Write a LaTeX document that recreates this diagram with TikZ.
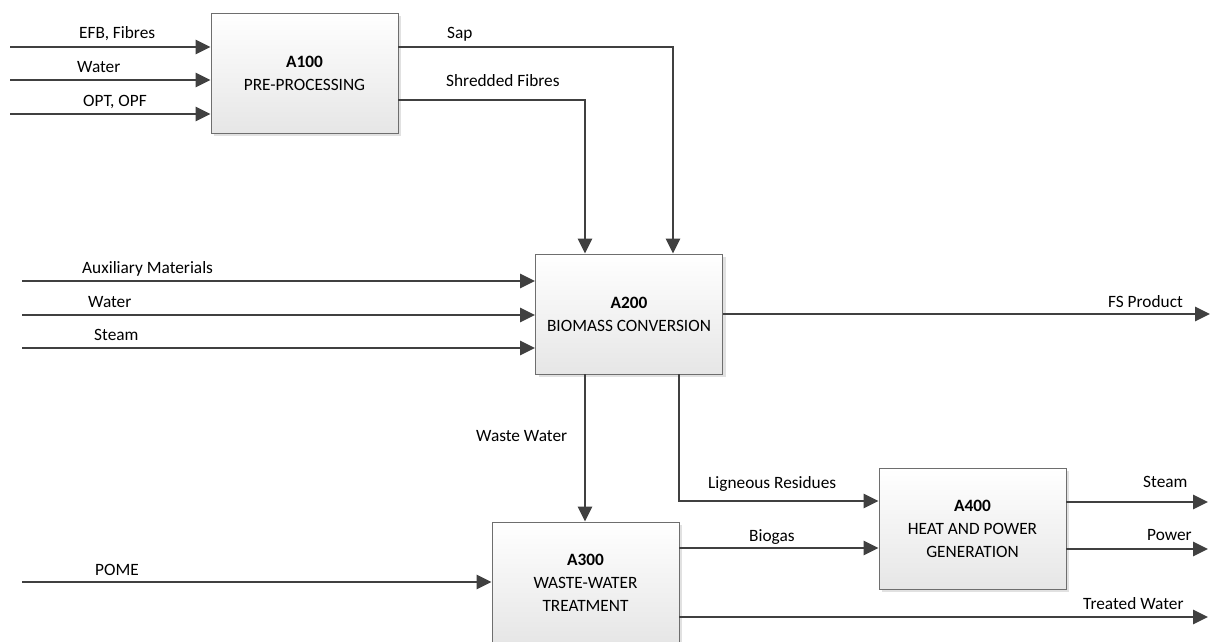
\documentclass[tikz,border=0pt]{standalone}
\usepackage{fontspec}
\setmainfont{Carlito}
\usetikzlibrary{arrows.meta,calc}
\definecolor{linec}{RGB}{64,64,64}
\definecolor{boxborder}{RGB}{110,110,110}
\definecolor{boxbottom}{RGB}{230,230,230}
\definecolor{shadowc}{RGB}{225,225,225}
\begin{document}
\begin{tikzpicture}[x=1pt,y=-1pt,
  font=\fontsize{17.3}{23}\selectfont,
  procbox/.style={draw=boxborder,line width=0.9pt,top color=white,bottom color=boxbottom,
    minimum width=187pt,minimum height=120pt,inner sep=0pt,align=center,text=black},
  flow/.style={draw=linec,line width=2.7pt,-{Triangle[length=15pt,width=14pt]}},
  lbl/.style={anchor=base west,inner sep=0pt,text=black}]
\useasboundingbox (0,0) rectangle (1212,642);
\clip (0,0) rectangle (1212,642);
\fill[white] (0,0) rectangle (1212,642);
% shadows
\foreach \cx/\cy/\h in {304.5/73/120, 629/314/120, 585.5/582.5/121, 972.5/528.5/121}{
  \fill[shadowc] (\cx-93.5+3,\cy-\h/2+3) rectangle (\cx+93.5+3,\cy+\h/2+3);
}
% boxes
\node[procbox] (A100) at (304.5,73) {\textbf{A100}\\PRE-PROCESSING};
\node[procbox] (A200) at (629,314) {\textbf{A200}\\BIOMASS CONVERSION};
\node[procbox,minimum height=121pt] (A300) at (585.5,582.5) {\textbf{A300}\\WASTE-WATER\\TREATMENT};
\node[procbox,minimum height=121pt] (A400) at (972.5,528.5) {\textbf{A400}\\HEAT AND POWER\\GENERATION};
% free ends
\coordinate (i1) at (10,47);
\coordinate (i2) at (10,80);
\coordinate (i3) at (10,114);
\coordinate (sapturn) at (673,47);
\coordinate (shrturn) at (585,100);
\coordinate (j1) at (22,281);
\coordinate (j2) at (22,315);
\coordinate (j3) at (22,348);
\coordinate (fsend) at (1210,314);
\coordinate (ww) at (585,400);
\coordinate (lig) at (679,501);
\coordinate (pome) at (22,582);
\coordinate (bio) at (700,548);
\coordinate (twend) at (1208,617);
\coordinate (stend) at (1208,502);
\coordinate (pwend) at (1208,549);
% connectors
\draw[flow] (i1) -- (i1 -| A100.west);
\draw[flow] (i2) -- (i2 -| A100.west);
\draw[flow] (i3) -- (i3 -| A100.west);
\draw[flow] (A100.east |- sapturn) -| (A200.north -| sapturn);
\draw[flow] (A100.east |- shrturn) -| (A200.north -| shrturn);
\draw[flow] (j1) -- (j1 -| A200.west);
\draw[flow] (j2) -- (j2 -| A200.west);
\draw[flow] (j3) -- (j3 -| A200.west);
\draw[flow] (A200.east |- fsend) -- (fsend);
\draw[flow] (A200.south -| ww) -- (A300.north -| ww);
\draw[flow] (A200.south -| lig) |- (A400.west |- lig);
\draw[flow] (pome) -- (pome -| A300.west);
\draw[flow] (A300.east |- bio) -- (A400.west |- bio);
\draw[flow] (A300.east |- twend) -- (twend);
\draw[flow] (A400.east |- stend) -- (stend);
\draw[flow] (A400.east |- pwend) -- (pwend);
% labels
\node[lbl] (l1) at (79,39) {EFB, Fibres};
\node[lbl] (l2) at (77,72) {Water};
\node[lbl] (l3) at (83,106) {OPT, OPF};
\node[lbl] (lsap) at (447,39) {Sap};
\node[lbl] (lshr) at (446,86) {Shredded Fibres};
\node[lbl] (laux) at (82,273) {Auxiliary Materials};
\node[lbl] (lwat) at (88,307) {Water};
\node[lbl] (lste) at (94,340) {Steam};
\node[lbl] (lfs) at (1108,307) {FS Product};
\node[lbl] (lww) at (476,441) {Waste Water};
\node[lbl] (llig) at (708,488) {Ligneous Residues};
\node[lbl] (lbio) at (749,541) {Biogas};
\node[lbl] (lpome) at (95,575) {POME};
\node[lbl] (lst2) at (1143,487) {Steam};
\node[lbl] (lpw) at (1147,540) {Power};
\node[lbl] (ltw) at (1083,609) {Treated Water};
\end{tikzpicture}
\end{document}
